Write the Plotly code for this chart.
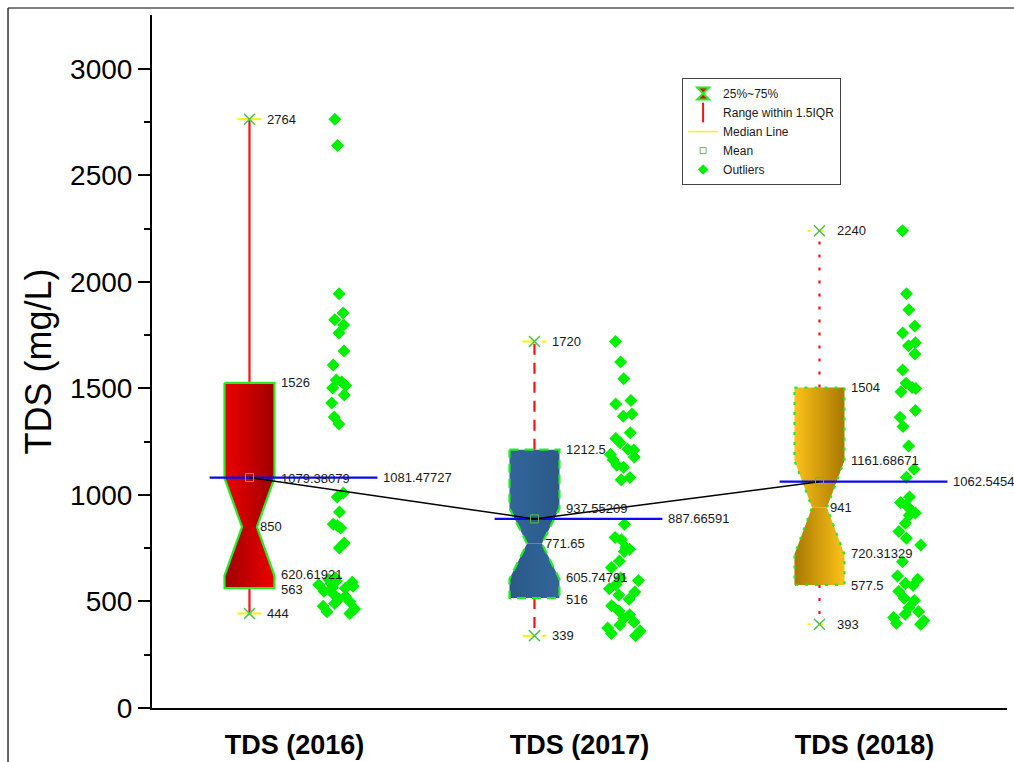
import plotly.graph_objects as go

# ---- data -------------------------------------------------------------
years = ["TDS (2016)", "TDS (2017)", "TDS (2018)"]

tds_2016 = [2764, 2640, 1944, 1854, 1822, 1798, 1760, 1676, 1610, 1540, 1530,
            1514, 1502, 1469, 1432, 1366, 1333, 1009, 991, 920, 862, 855, 845,
            775, 751, 610, 603, 596, 590, 584, 578, 572, 566, 562, 548, 537,
            525, 512, 500, 490, 478, 465, 452, 444]
tds_2017 = [1720, 1624, 1545, 1443, 1427, 1380, 1370, 1292, 1265, 1245, 1215,
            1211.5, 1190, 1178, 1165, 1140, 1130, 1082, 1072, 862, 800, 790,
            753.3, 745, 735, 690, 660, 610, 598, 578, 560, 545, 531, 511, 480,
            455, 438, 420, 402, 390, 375, 362, 350, 339]
tds_2018 = [2240, 1944, 1869, 1793, 1760, 1715, 1700, 1662, 1587, 1524, 1505,
            1500, 1485, 1396, 1365, 1321, 1230, 1121, 1083, 990, 965, 952, 930,
            915, 905, 867, 828, 797, 765, 687, 620, 604, 585, 575, 548, 515,
            505, 470, 452, 440, 425, 410, 398, 393]
samples = [tds_2016, tds_2017, tds_2018]

# box statistics
q_min = [444, 339, 393]
q1 = [563, 516, 577.5]
notch_lo = [620.61921, 605.74791, 720.31329]
median = [850, 771.65, 941]
notch_hi = [1079.38079, 937.55209, 1161.68671]
q3 = [1526, 1212.5, 1504]
q_max = [2764, 1720, 2240]
mean = [1081.47727, 887.66591, 1062.54545]
mean_text = ["1081.47727", "887.66591", "1062.54545"]

# ---- styling ----------------------------------------------------------
FONT = "Liberation Sans, Arial, sans-serif"
pos = [1, 2, 3]
box_off = -0.158      # box centre relative to category
pts_off = 0.158       # data points column relative to category
half_w = 0.0877       # half width of box
waist = 0.3           # notch waist as a fraction of half width
cap_w = 0.042
dash_style = ["solid", "11px,8px", "3px,10px"]
border_dash = ["solid", "9px,6px", "3px,7px"]
grad_top = [["#EE0000", "#9E0000"], ["#32659A", "#2B5A88"], ["#FDC21A", "#A87800"]]
grad_bot = [["#9E0000", "#EE0000"], ["#2B5A88", "#32659A"], ["#A87800", "#FDC21A"]]
X_GREEN = "#4CC04C"
MEAN_GREEN = "#5FBF3A"

fig = go.Figure()

for i in range(3):
    c = pos[i] + box_off
    w = half_w
    ww = half_w * waist
    # upper and lower halves of the notched box
    fig.add_trace(go.Scatter(
        x=[c - w, c + w, c + w, c + ww, c - ww, c - w, c - w],
        y=[q3[i], q3[i], notch_hi[i], median[i], median[i], notch_hi[i], q3[i]],
        mode="lines", fill="toself", line=dict(width=0),
        fillgradient=dict(type="horizontal",
                          colorscale=[[0, grad_top[i][0]], [1, grad_top[i][1]]]),
        hoverinfo="skip", showlegend=False))
    fig.add_trace(go.Scatter(
        x=[c - ww, c + ww, c + w, c + w, c - w, c - w, c - ww],
        y=[median[i], median[i], notch_lo[i], q1[i], q1[i], notch_lo[i], median[i]],
        mode="lines", fill="toself", line=dict(width=0),
        fillgradient=dict(type="horizontal",
                          colorscale=[[0, grad_bot[i][0]], [1, grad_bot[i][1]]]),
        hoverinfo="skip", showlegend=False))
    # whiskers
    fig.add_trace(go.Scatter(
        x=[c, c, None, c, c], y=[q3[i], q_max[i], None, q1[i], q_min[i]],
        mode="lines", line=dict(color="#FF1010", width=2.2, dash=dash_style[i]),
        hoverinfo="skip", showlegend=False))
    # box outline
    fig.add_trace(go.Scatter(
        x=[c - w, c + w, c + w, c + ww, c + w, c + w, c - w, c - w, c - ww, c - w, c - w],
        y=[q3[i], q3[i], notch_hi[i], median[i], notch_lo[i], q1[i], q1[i],
           notch_lo[i], median[i], notch_hi[i], q3[i]],
        mode="lines", line=dict(color="#22EE22", width=2.2, dash=border_dash[i]),
        hoverinfo="skip", showlegend=False))
    # caps at min / max
    fig.add_trace(go.Scatter(
        x=[c - cap_w, c + cap_w, None, c - cap_w, c + cap_w],
        y=[q_max[i], q_max[i], None, q_min[i], q_min[i]],
        mode="lines", line=dict(color="#F5F500", width=2, dash=dash_style[i]),
        hoverinfo="skip", showlegend=False))
    fig.add_trace(go.Scatter(
        x=[c, c], y=[q_max[i], q_min[i]], mode="markers",
        marker=dict(symbol="x-thin-open", size=11, color=X_GREEN,
                    line=dict(color=X_GREEN, width=1.5)),
        hoverinfo="skip", showlegend=False))
    # mean level line
    fig.add_trace(go.Scatter(
        x=[c - 0.14, c + 0.449], y=[mean[i], mean[i]], mode="lines",
        line=dict(color="#0A0AEE", width=2.2), hoverinfo="skip", showlegend=False))
    # data points beside the box
    fig.add_trace(go.Box(
        y=samples[i], x0=pos[i] + pts_off, width=0.15,
        boxpoints="all", jitter=1, pointpos=0,
        fillcolor="rgba(0,0,0,0)", line=dict(width=0, color="rgba(0,0,0,0)"),
        marker=dict(symbol="diamond", size=10, color="#00F000"),
        hoverinfo="skip", showlegend=False))

# line joining the means
fig.add_trace(go.Scatter(
    x=[p + box_off for p in pos], y=mean, mode="lines",
    line=dict(color="black", width=1.5), hoverinfo="skip", showlegend=False))
fig.add_trace(go.Scatter(
    x=[p + box_off for p in pos], y=mean, mode="markers",
    marker=dict(symbol="square-open", size=8, color=MEAN_GREEN,
                line=dict(color=MEAN_GREEN, width=1)),
    hoverinfo="skip", showlegend=False))

# legend entries
fig.add_trace(go.Scatter(x=[None], y=[None], mode="markers", name="25%~75%",
                         marker=dict(symbol="hourglass", size=12, color="#EE0000",
                                     line=dict(color="#22EE22", width=2))))
fig.add_trace(go.Scatter(x=[None], y=[None], mode="markers", name="Range within 1.5IQR",
                         marker=dict(symbol="line-ns-open", size=14, color="#FF1010",
                                     line=dict(color="#FF1010", width=2))))
fig.add_trace(go.Scatter(x=[None], y=[None], mode="lines", name="Median Line",
                         line=dict(color="#F5F500", width=1.5)))
fig.add_trace(go.Scatter(x=[None], y=[None], mode="markers", name="Mean",
                         marker=dict(symbol="square-open", size=6, color=MEAN_GREEN,
                                     line=dict(color=MEAN_GREEN, width=1))))
fig.add_trace(go.Scatter(x=[None], y=[None], mode="markers", name="Outliers",
                         marker=dict(symbol="diamond", size=8, color="#00F000")))

# value labels
ann = []
def label(x, y, text, shift, yshift=0):
    ann.append(dict(x=x, y=y, xref="x", yref="y", text=text, showarrow=False,
                    xanchor="left", yanchor="middle", xshift=shift, yshift=yshift,
                    font=dict(family=FONT, size=13, color="#1A1A1A")))

for i in range(3):
    c = pos[i] + box_off
    label(c, q_max[i], f"{q_max[i]:g}", 16)
    label(c, q_min[i], f"{q_min[i]:g}", 16)
    label(c, q3[i], f"{q3[i]:g}", 30)
    label(c, notch_hi[i], f"{notch_hi[i]:.5f}".rstrip("0").rstrip("."), 30)
    label(c, notch_lo[i], f"{notch_lo[i]:.5f}".rstrip("0").rstrip("."), 30, 1)
    label(c, q1[i], f"{q1[i]:g}", 30, -1)
    label(c, median[i], f"{median[i]:g}", 9)
    label(c + 0.449, mean[i], mean_text[i], 4)

fig.update_layout(
    width=1014, height=762,
    margin=dict(l=152, r=7, t=15, b=54),
    paper_bgcolor="white", plot_bgcolor="white",
    boxmode="overlay",
    annotations=ann,
    font=dict(family=FONT, color="black"),
    legend=dict(x=0.62, y=0.909, xanchor="left", yanchor="top",
                bordercolor="#444444", borderwidth=1, bgcolor="white",
                font=dict(family=FONT, size=12, color="#1A1A1A"),
                itemwidth=30, tracegroupgap=0),
    shapes=[
        dict(type="line", xref="paper", yref="paper", x0=-0.1684, x1=1.02,
             y0=1.0101, y1=1.0101, line=dict(color="black", width=1.2)),
        dict(type="line", xref="paper", yref="paper", x0=-0.1684, x1=-0.1684,
             y0=1.0101, y1=-0.1, line=dict(color="black", width=1.2)),
    ],
)

fig.update_xaxes(
    range=[0.5, 3.5], tickvals=pos, ticktext=years, showgrid=False, zeroline=False,
    showline=True, linecolor="black", linewidth=2, ticks="", automargin=False,
    tickfont=dict(family=FONT, size=27, color="black", weight="bold"),
    ticklabelstandoff=12)
fig.update_yaxes(
    range=[0, 3253], tickvals=[0, 500, 1000, 1500, 2000, 2500, 3000],
    showgrid=False, zeroline=False, showline=True, linecolor="black", linewidth=2,
    ticks="outside", ticklen=12, tickwidth=2, tickcolor="black", automargin=False,
    minor=dict(tickvals=[250, 750, 1250, 1750, 2250, 2750], ticks="outside",
               ticklen=6, tickwidth=2, tickcolor="black"),
    tickfont=dict(family=FONT, size=28, color="black"),
    title=dict(text="TDS (mg/L)", font=dict(family=FONT, size=36, color="black"),
               standoff=8))

fig.write_html("out.html")
